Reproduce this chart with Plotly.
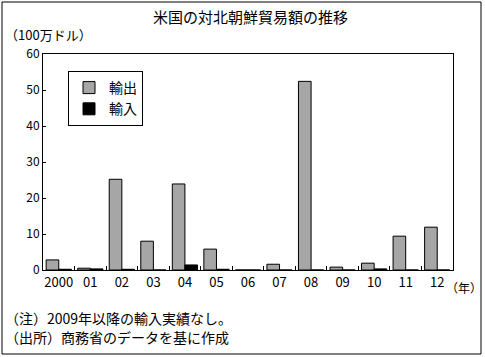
import plotly.graph_objects as go

years = ["2000", "01", "02", "03", "04", "05", "06", "07", "08", "09", "10", "11", "12"]
exports = [2.8, 0.5, 25.2, 8.0, 23.9, 5.8, 0.0, 1.6, 52.4, 0.8, 1.9, 9.4, 11.9]
imports = [0.2, 0.3, 0.2, 0.0, 1.4, 0.2, 0.0, 0.0, 0.0, 0.0, 0.3, 0.0, 0.0]

W, H = 485, 357
L, R, T, B = 43, 32, 54, 87
pw, ph = W - L - R, H - T - B
FONT = "Noto Sans CJK JP"

def px(x):
    return (x - L) / pw

def py(y):
    return (H - B - y) / ph

fig = go.Figure()
fig.add_trace(go.Bar(x=years, y=exports, name="輸出",
                     marker=dict(color="#a6a6a6", line=dict(color="black", width=1))))
fig.add_trace(go.Bar(x=years, y=imports, name="輸入",
                     marker=dict(color="black", line=dict(color="black", width=1))))

fig.update_layout(
    width=W, height=H,
    margin=dict(l=L, r=R, t=T, b=B, autoexpand=False),
    paper_bgcolor="white", plot_bgcolor="white",
    barmode="group", bargap=0.2, bargroupgap=0,
    font=dict(family=FONT, size=12, color="black"),
    showlegend=True,
    legend=dict(x=px(68), y=py(71), xanchor="left", yanchor="top",
                bordercolor="black", borderwidth=1, bgcolor="white",
                font=dict(size=14), itemwidth=30, tracegroupgap=0),
    xaxis=dict(type="category", tickson="boundaries", ticks="inside", ticklen=4,
               tickcolor="black", showline=True, linecolor="black", linewidth=1,
               mirror=True, showgrid=False, tickangle=0, tickfont=dict(size=13),
               automargin=False),
    yaxis=dict(range=[0, 60], dtick=10, ticks="inside", ticklen=3, tickcolor="black",
               showline=True, linecolor="black", linewidth=1, mirror=True,
               showgrid=False, zeroline=False, tickfont=dict(size=12), automargin=False),
    shapes=[dict(type="rect", xref="paper", yref="paper",
                 x0=px(2), x1=px(481), y0=py(2), y1=py(354),
                 line=dict(color="black", width=1), layer="above")],
    annotations=[
        dict(text="米国の対北朝鮮貿易額の推移", x=px(250), y=py(16), xref="paper", yref="paper",
             showarrow=False, xanchor="center", yanchor="middle", font=dict(size=15)),
        dict(text="（100万ドル）", x=px(3), y=py(35), xref="paper", yref="paper",
             showarrow=False, xanchor="left", yanchor="middle", font=dict(size=13)),
        dict(text="（年）", x=px(444), y=py(287), xref="paper", yref="paper",
             showarrow=False, xanchor="left", yanchor="middle", font=dict(size=12)),
        dict(text="（注）2009年以降の輸入実績なし。", x=px(3), y=py(318), xref="paper", yref="paper",
             showarrow=False, xanchor="left", yanchor="middle", font=dict(size=14)),
        dict(text="（出所）商務省のデータを基に作成", x=px(3), y=py(337), xref="paper", yref="paper",
             showarrow=False, xanchor="left", yanchor="middle", font=dict(size=14)),
    ],
)

fig.write_html("out.html", config={"displayModeBar": False},
               post_script="document.body.style.margin='0';")
